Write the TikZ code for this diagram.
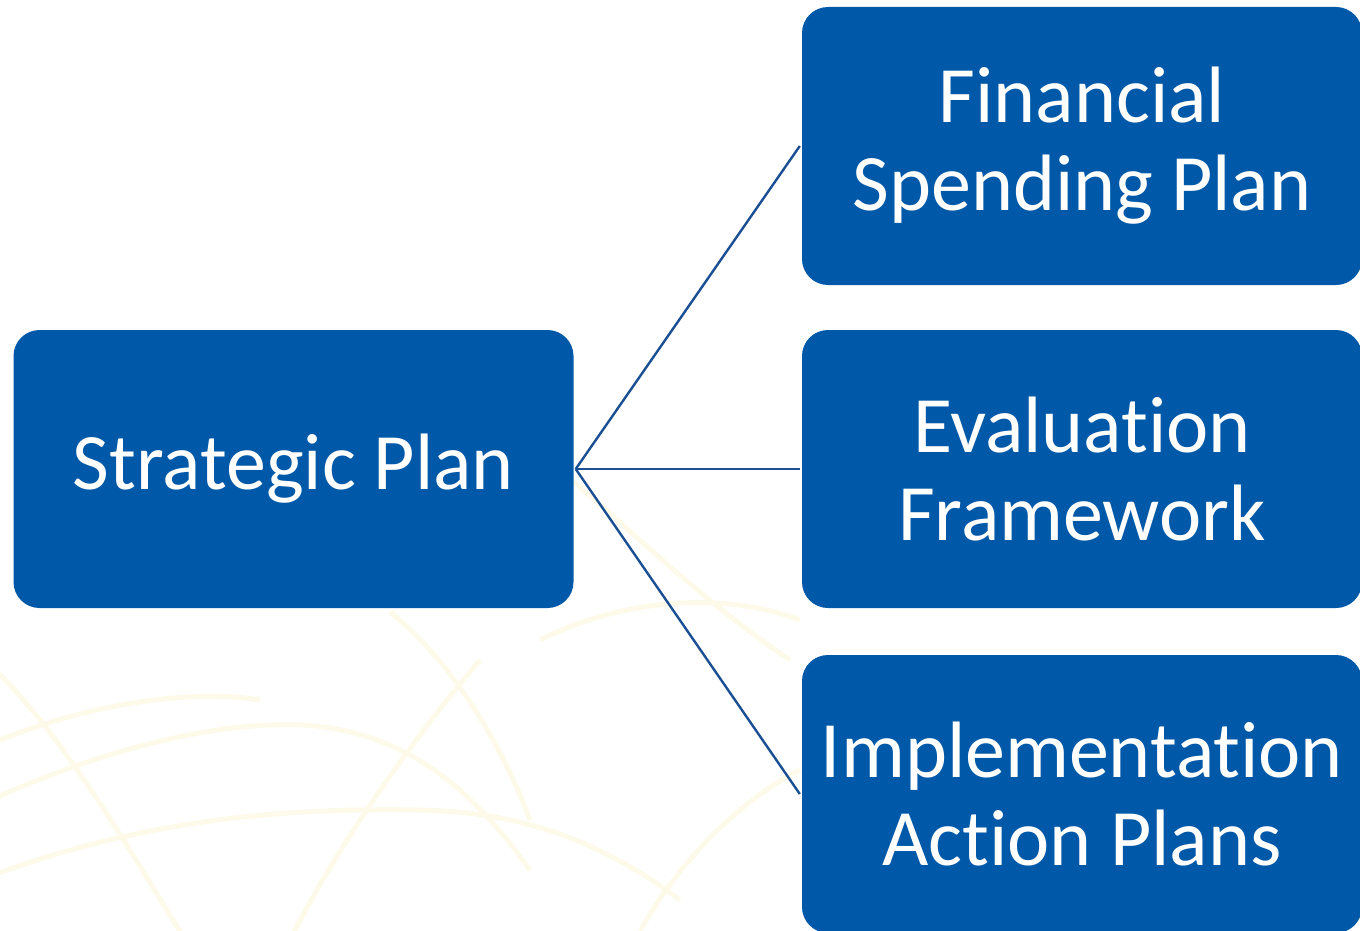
\documentclass[tikz,border=0pt]{standalone}
\usepackage{fontspec}
\setmainfont{Carlito}[Ligatures={NoCommon}]
\definecolor{boxblue}{HTML}{0058A8}
\definecolor{linkblue}{HTML}{1B4F93}
\definecolor{swirl}{HTML}{FDFAEA}
\begin{document}
\begin{tikzpicture}[x=1pt,y=-1pt,
  planbox/.style={draw=none,fill=boxblue,rounded corners=26pt,minimum width=560pt,minimum height=278pt,
    text=white,align=center,inner sep=0pt,font=\fontsize{80}{88}\selectfont},
  link/.style={draw=linkblue,line width=2.4pt},
  swirlline/.style={draw=swirl,line width=5pt}]
\useasboundingbox (0,0) rectangle (1360,931);
\begin{scope}
\clip (0,0) rectangle (1360,931);
% faint background swirls
\draw[swirlline] (-20,805) .. controls (120,740) and (250,715) .. (330,728) .. controls (420,742) and (480,800) .. (530,870);
\draw[swirlline] (-20,880) .. controls (150,815) and (300,808) .. (420,810) .. controls (520,812) and (600,840) .. (680,900);
\draw[swirlline] (-10,665) .. controls (60,730) and (130,850) .. (185,940);
\draw[swirlline] (480,660) .. controls (420,730) and (340,840) .. (290,940);
\draw[swirlline] (390,612) .. controls (450,660) and (500,740) .. (530,820);
\draw[swirlline] (540,640) .. controls (620,600) and (720,590) .. (800,620);
\draw[swirlline] (560,470) .. controls (620,520) and (700,600) .. (790,660);
\draw[swirlline] (640,931) .. controls (680,860) and (740,800) .. (800,770);
\draw[swirlline] (0,740) .. controls (100,700) and (200,690) .. (260,700);
% boxes
\node[planbox] (sp) at (293.5,469) {Strategic Plan};
\node[planbox] (fs) at (1082,146) {Financial\\Spending Plan};
\node[planbox] (ef) at (1082,469) {Evaluation\\Framework};
\node[planbox] (ia) at (1082,794) {Implementation\\Action Plans};
\end{scope}
% connectors
\coordinate (hub) at ([xshift=2pt]sp.east);
\draw[link] (hub) -- ([xshift=-2pt]fs.west);
\draw[link] (hub) -- ([xshift=-2pt]ef.west);
\draw[link] (hub) -- ([xshift=-2pt]ia.west);
\end{tikzpicture}
\end{document}
